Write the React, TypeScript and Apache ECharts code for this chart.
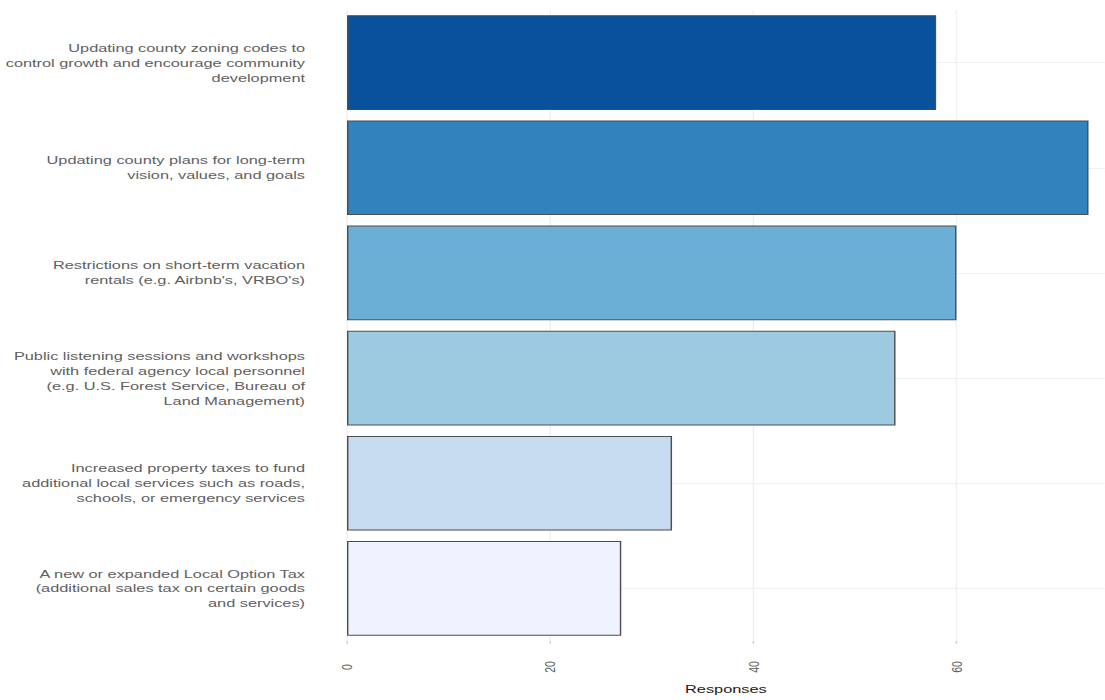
import React, { useEffect, useRef } from "react";
import * as echarts from "echarts";

const categories = [
  "Updating county zoning codes to\ncontrol growth and encourage community\ndevelopment",
  "Updating county plans for long-term\nvision, values, and goals",
  "Restrictions on short-term vacation\nrentals (e.g. Airbnb's, VRBO's)",
  "Public listening sessions and workshops\nwith federal agency local personnel\n(e.g. U.S. Forest Service, Bureau of\nLand Management)",
  "Increased property taxes to fund\nadditional local services such as roads,\nschools, or emergency services",
  "A new or expanded Local Option Tax\n(additional sales tax on certain goods\nand services)",
];
const responses = [58, 73, 60, 54, 32, 27];
const barColors = ["#08519c", "#3182bd", "#6baed6", "#9ecae1", "#c6dbef", "#eff3ff"];
const xTicks = [0, 20, 40, 60];

const STRETCH = 1.42;
const W = 1105;
const H = 700;

export default function App() {
  const ref = useRef<HTMLDivElement>(null);
  useEffect(() => {
    document.body.style.margin = "0";
    const chart = echarts.init(ref.current!, null, { renderer: "svg" });
    const gridLines = [
      ...categories.map((c) => ({ yAxis: c })),
      ...xTicks.map((t) => ({ xAxis: t })),
    ];
    chart.setOption({
      animation: false,
      backgroundColor: "#ffffff",
      textStyle: { fontFamily: "Liberation Sans, Arial, sans-serif" },
      grid: { left: 347 / STRETCH, right: 0, top: 10, bottom: 54, containLabel: false },
      xAxis: {
        type: "value",
        min: 0,
        max: 74.6,
        interval: 20,
        name: "Responses",
        nameLocation: "middle",
        nameGap: 42,
        nameTextStyle: { fontSize: 11.5, color: "#1a1a1a" },
        axisLine: { show: false },
        axisTick: { show: true, length: 3, lineStyle: { color: "#d0d0d0" } },
        axisLabel: {
          rotate: 90,
          fontSize: 10.5,
          color: "#606060",
          margin: 26,
          align: "center",
          verticalAlign: "middle",
          formatter: (v: number) => (xTicks.includes(v) ? String(v) : ""),
        },
        splitLine: { show: false },
      },
      yAxis: {
        type: "category",
        data: categories,
        inverse: true,
        axisLine: { show: false },
        axisTick: { show: false },
        axisLabel: {
          fontSize: 11.5,
          color: "#606060",
          lineHeight: 15,
          margin: 42 / STRETCH,
          align: "right",
        },
        splitLine: { show: false },
      },
      series: [
        {
          type: "line",
          data: [],
          z: 0,
          silent: true,
          markLine: {
            z: 0,
            silent: true,
            symbol: "none",
            label: { show: false },
            lineStyle: { color: "#f0f0f0", type: "solid", width: 1 },
            data: gridLines,
          },
        },
        {
          type: "bar",
          z: 3,
          data: responses.map((v, i) => ({
            value: v,
            itemStyle: { color: barColors[i] },
          })),
          barCategoryGap: "10%",
          itemStyle: { borderColor: "#4d4d4d", borderWidth: 1 },
        },
      ],
    });
    return () => chart.dispose();
  }, []);
  return (
    <div style={{ width: W, height: H, overflow: "hidden", background: "#fff" }}>
      <div
        ref={ref}
        style={{
          width: W / STRETCH,
          height: H,
          transform: `scaleX(${STRETCH})`,
          transformOrigin: "0 0",
        }}
      />
    </div>
  );
}
